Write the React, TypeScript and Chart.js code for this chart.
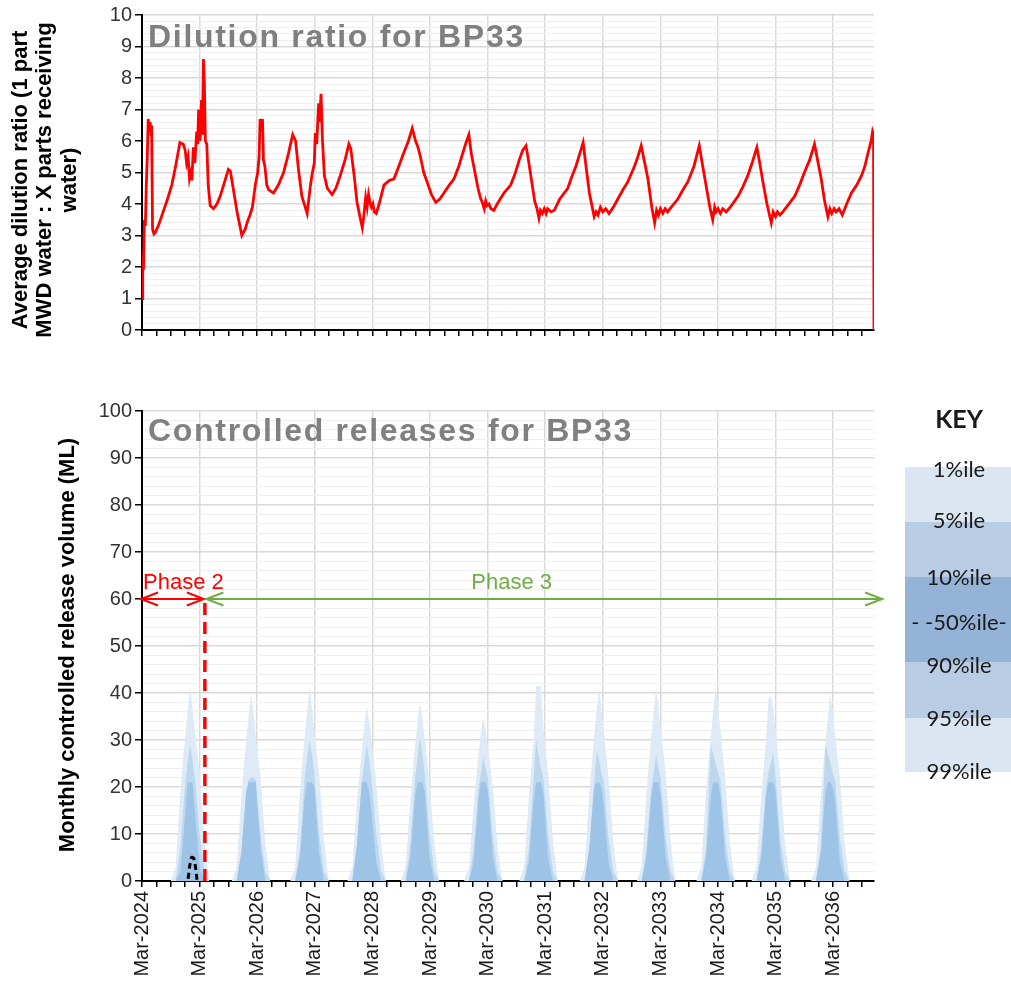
import React, { useEffect, useRef } from 'react';
import { Chart, registerables } from 'chart.js';

Chart.register(...registerables);

const FONT = '"Liberation Sans", Arial, Helvetica, sans-serif';
Chart.defaults.font.family = FONT;

// ---------- Axis / label data ----------
const yearLabels = [
  'Mar-2024', 'Mar-2025', 'Mar-2026', 'Mar-2027', 'Mar-2028', 'Mar-2029', 'Mar-2030',
  'Mar-2031', 'Mar-2032', 'Mar-2033', 'Mar-2034', 'Mar-2035', 'Mar-2036',
];
const xMaxMonths = 152.5; // months after Mar-2024 where the axis ends
const topTitle = 'Dilution ratio for BP33';
const bottomTitle = 'Controlled releases for BP33';
const topYTitle = ['Average dilution ratio (1 part', 'MWD water : X parts receiving', 'water)'];
const bottomYTitle = 'Monthly controlled release volume (ML)';

// ---------- Dilution ratio (months after Mar-2024, ratio) ----------
const dilutionMonths = [
  0.0, 0.15, 0.3, 0.5, 0.7, 0.9, 1.1, 1.3, 1.5, 1.7, 1.9, 2.0, 2.2, 2.5, 2.8, 3.5, 4.4, 5.3, 6.2, 7.0,
  7.9, 8.6, 9.0, 9.3, 9.6, 9.9, 10.2, 10.4, 10.7, 11.0, 11.4, 11.6, 11.8, 12.1, 12.4, 12.6, 12.8, 13.0, 13.2, 13.5,
  13.8, 14.2, 14.9, 15.6, 16.3, 17.0, 18.0, 18.4, 19.0, 19.8, 20.4, 20.8, 21.5, 22.0, 22.5, 23.0, 23.6, 24.1, 24.4, 24.6,
  24.8, 25.1, 25.3, 25.6, 26.0, 26.4, 27.4, 28.4, 29.5, 30.5, 31.4, 32.0, 32.6, 33.3, 34.0, 34.4, 35.1, 35.5, 35.9, 36.1,
  36.4, 36.8, 37.0, 37.3, 37.6, 38.0, 38.6, 39.6, 40.4, 41.3, 42.3, 43.1, 43.5, 44.2, 44.8, 45.4, 45.9, 46.2, 46.6, 46.9,
  47.2, 47.5, 47.8, 48.1, 48.4, 48.8, 49.4, 50.4, 51.5, 52.5, 53.5, 54.6, 55.5, 56.3, 57.0, 57.5, 58.0, 58.7, 59.4, 60.3,
  61.2, 62.0, 62.9, 64.0, 65.0, 66.0, 66.7, 67.5, 68.1, 68.6, 69.5, 70.0, 70.5, 70.9, 71.3, 71.6, 71.9, 72.3, 72.7, 73.3,
  74.0, 75.4, 76.8, 77.7, 78.6, 79.3, 80.0, 80.4, 81.0, 81.8, 82.3, 82.7, 83.0, 83.4, 83.8, 84.2, 84.5, 85.2, 85.9, 87.0,
  88.7, 89.5, 90.4, 91.2, 91.9, 92.5, 93.2, 93.8, 94.2, 94.6, 95.0, 95.5, 96.0, 96.6, 97.3, 98.2, 99.1, 100.2, 101.2, 102.6,
  103.3, 104.0, 104.6, 105.4, 106.2, 106.8, 107.2, 107.6, 108.0, 108.5, 109.0, 109.5, 110.5, 111.6, 112.7, 113.7, 115.0, 116.1, 116.7, 117.5,
  118.3, 118.9, 119.3, 119.6, 120.0, 120.5, 121.0, 121.7, 122.8, 124.2, 125.2, 126.2, 127.2, 128.1, 128.7, 129.3, 130.2, 131.1, 131.5, 132.0,
  132.4, 132.9, 133.5, 134.5, 136.0, 137.0, 138.0, 139.1, 140.1, 140.8, 141.5, 142.2, 142.9, 143.3, 143.7, 144.2, 144.6, 145.2, 145.9, 146.8,
  147.8, 148.9, 149.9, 150.6, 151.3, 151.9, 152.2, 152.4, 152.5,
];
const dilutionValues = [
  1.0, 2.4, 1.9, 3.5, 3.3, 4.6, 5.5, 6.7, 6.3, 6.6, 6.2, 6.5, 3.2, 3.05, 3.1, 3.35, 3.75, 4.15, 4.6, 5.2,
  5.95, 5.9, 5.7, 5.3, 5.5, 4.8, 5.0, 4.75, 5.8, 5.3, 6.3, 5.9, 7.0, 6.0, 7.3, 6.2, 8.6, 7.8, 6.0, 5.9,
  4.6, 3.95, 3.85, 4.0, 4.25, 4.6, 5.1, 5.05, 4.5, 3.75, 3.3, 3.0, 3.2, 3.45, 3.65, 3.9, 4.6, 5.0, 5.5, 6.7,
  6.3, 6.7, 5.4, 5.2, 4.6, 4.45, 4.35, 4.6, 5.0, 5.6, 6.2, 6.0, 5.1, 4.25, 3.9, 3.7, 4.6, 5.0, 5.3, 6.25,
  5.9, 7.2, 6.6, 7.5, 6.0, 4.9, 4.5, 4.3, 4.5, 4.9, 5.4, 5.9, 5.75, 4.9, 4.05, 3.6, 3.25, 3.6, 4.2, 3.9,
  4.3, 4.05, 3.9, 4.0, 3.75, 3.7, 4.0, 4.6, 4.75, 4.8, 5.2, 5.65, 6.0, 6.4, 6.0, 5.8, 5.5, 5.0, 4.7, 4.3,
  4.05, 4.15, 4.35, 4.6, 4.8, 5.2, 5.55, 5.95, 6.2, 5.6, 4.9, 4.5, 4.2, 4.05, 3.85, 4.1, 3.95, 4.0, 3.85, 3.8,
  4.0, 4.35, 4.6, 4.95, 5.4, 5.7, 5.85, 5.5, 4.9, 4.1, 3.85, 3.55, 3.8, 3.7, 3.85, 3.7, 3.85, 3.75, 3.8, 4.15,
  4.5, 4.85, 5.2, 5.6, 5.95, 5.2, 4.35, 3.9, 3.6, 3.75, 3.65, 3.9, 3.75, 3.85, 3.7, 3.9, 4.15, 4.45, 4.7, 5.2,
  5.5, 5.85, 5.4, 4.8, 3.9, 3.4, 3.8, 3.65, 3.85, 3.7, 3.85, 3.75, 3.95, 4.15, 4.45, 4.7, 5.2, 5.85, 5.3, 4.6,
  3.9, 3.5, 3.9, 3.75, 3.85, 3.7, 3.85, 3.75, 3.95, 4.25, 4.55, 4.9, 5.35, 5.8, 5.3, 4.75, 4.0, 3.4, 3.75, 3.6,
  3.75, 3.65, 3.75, 3.95, 4.25, 4.6, 5.0, 5.4, 5.9, 5.35, 4.8, 4.1, 3.6, 3.85, 3.7, 3.85, 3.75, 3.85, 3.65, 4.0,
  4.35, 4.6, 4.9, 5.2, 5.65, 6.0, 6.3, 6.2, 0,
];

// ---------- Controlled releases: percentile envelopes per release season ----------
// Season peak month (months after Mar-2024) and values at offsets (months) around the peak.
const seasonPeakMonths = [10, 22.7, 34.9, 46.8, 57.9, 71.1, 82.6, 95.2, 107.1, 119.5, 131, 143.4];
const seasonOffsets = [-4, -3, -2, -1, -0.5, 0, 0.5, 1, 2, 3, 4];
const p99Seasons = [
  [0, 3, 19, 31, 36, 41.5, 37, 32, 23, 9, 0],
  [0, 3, 18, 30, 35, 40, 36, 31, 22, 8, 0],
  [0, 3, 19, 31, 36, 41.4, 37, 32, 23, 9, 0],
  [0, 3, 17, 28, 33, 37.1, 34, 30, 21, 8, 0],
  [0, 3, 17, 29, 34, 38, 35, 30, 21, 8, 0],
  [0, 3, 16, 27, 31.5, 34.8, 32, 28, 20, 7, 0],
  [0, 3, 18, 30, 41.5, 41.5, 41.5, 33, 23, 9, 0],
  [0, 3, 19, 31, 36, 41.2, 37, 32, 22, 8, 0],
  [0, 3, 19, 31, 36, 41.2, 37, 32, 23, 9, 0],
  [0, 3, 19, 31, 36, 41.2, 37, 32, 22, 8, 0],
  [0, 3, 18, 30, 38.7, 39.5, 37, 32, 22, 8, 0],
  [0, 3, 18, 30, 35, 39.8, 36, 31, 22, 8, 0],
];
const p95Seasons = [
  [0, 0, 7, 21, 25, 29.3, 26, 22, 10, 2, 0],
  [0, 0, 6, 19, 21.5, 22, 22, 21.5, 10, 2, 0],
  [0, 0, 7, 22, 26, 30, 27, 23, 10, 2, 0],
  [0, 0, 7, 21, 25, 28.9, 26, 22, 10, 2, 0],
  [0, 0, 8, 22, 26, 30.7, 27, 23, 10, 2, 0],
  [0, 0, 7, 20, 23, 26.4, 24, 21.5, 9, 2, 0],
  [0, 0, 7, 22, 30, 27, 24, 22, 10, 2, 0],
  [0, 0, 7, 21, 27.7, 26, 23, 21.5, 9, 2, 0],
  [0, 0, 7, 20, 23, 27.2, 24, 21.5, 9, 2, 0],
  [0, 0, 7, 28.9, 27, 25, 23, 21.5, 9, 2, 0],
  [0, 0, 7, 20, 23, 25, 27.5, 22, 9, 2, 0],
  [0, 0, 7, 28.9, 27, 25, 23, 21.5, 9, 2, 0],
];
const p90Seasons = [
  [0, 0, 2, 14, 21, 21, 21, 15, 3, 0, 0],
  [0, 0, 6, 19, 21, 21, 21, 21, 7, 0, 0],
  [0, 0, 5, 18, 21, 21, 21, 20, 6, 0, 0],
  [0, 0, 8, 21, 21, 21, 19, 15, 4, 0, 0],
  [0, 0, 5, 18, 21, 21, 21, 19, 5, 0, 0],
  [0, 0, 4, 17, 21, 21, 21, 19, 5, 0, 0],
  [0, 0, 4, 17, 21, 21, 21, 19, 5, 0, 0],
  [0, 0, 7, 20, 21, 21, 20, 16, 4, 0, 0],
  [0, 0, 5, 18, 21, 21, 21, 18, 5, 0, 0],
  [0, 0, 5, 18, 21, 21, 21, 18, 5, 0, 0],
  [0, 0, 5, 18, 21, 21, 21, 19, 5, 0, 0],
  [0, 0, 6, 19, 21, 21, 20, 17, 4, 0, 0],
];
// 50%ile (only non-zero in Phase 2)
const medianMonths = [9.6, 10.3, 10.8, 11.5];
const medianValues = [0.5, 5, 4.8, 0];

// Phases
const phase2StartMonth = 0;
const phase2EndMonth = 13.1;
const phase3EndMonth = 154.2;
const phaseArrowLevel = 60;
const phase3LabelMonth = 77;

// Key
const keyLabels = ['1%ile', '5%ile', '10%ile', '- -50%ile-', '90%ile', '95%ile', '99%ile'];

// ---------- Colours ----------
const RED = '#ff0000';
const GREEN = '#70ad47';
const GRID_MAJOR = '#d9d9d9';
const GRID_MINOR = '#efefef';
const BAND_DARK = '#9dc3e6';
const BAND_MID = '#bdd7ee';
const BAND_LIGHT = '#deebf7';
const KEY_LIGHT = '#dce6f2';
const KEY_MID = '#b8cce4';
const KEY_DARK = '#95b3d7';

const isWhole = (v: number) => Math.abs(v - Math.round(v)) < 1e-6;
const isYear = (v: number) => Math.round(v) % 12 === 0;

function seasonSeries(seasons: number[][]) {
  const pts: { x: number; y: number }[] = [{ x: 0, y: 0 }];
  seasons.forEach((vals, s) => {
    seasonOffsets.forEach((off, k) => pts.push({ x: seasonPeakMonths[s] + off, y: vals[k] }));
  });
  pts.push({ x: xMaxMonths, y: 0 });
  return pts;
}

function xScale(showLabels: boolean, height: number) {
  return {
    type: 'linear',
    min: 0,
    max: xMaxMonths,
    afterFit: (s: any) => {
      s.height = height;
    },
    ticks: {
      stepSize: 3,
      includeBounds: false,
      autoSkip: false,
      minRotation: showLabels ? 90 : 0,
      maxRotation: showLabels ? 90 : 0,
      padding: 4,
      color: '#1a1a1a',
      font: { size: 20 },
      callback: (v: number) => {
        if (!showLabels) return '';
        const m = Math.round(v);
        return m % 12 === 0 ? yearLabels[m / 12] : '';
      },
    },
    grid: {
      color: (c: any) => (c.tick && isYear(c.tick.value) ? GRID_MAJOR : 'rgba(0,0,0,0)'),
      lineWidth: 1.5,
      tickColor: '#000',
      tickLength: 6,
      drawTicks: true,
    },
    border: { color: '#000', width: 2 },
  };
}

function yScale(max: number, step: number, major: number) {
  const isMajor = (v: number) => isWhole(v / major);
  return {
    min: 0,
    max,
    afterFit: (s: any) => {
      s.width = 142;
    },
    ticks: {
      stepSize: step,
      autoSkip: false,
      padding: 3,
      color: '#333333',
      font: { size: 20 },
      callback: (v: number) => (isMajor(v) ? String(Math.round(v)) : ''),
    },
    grid: {
      color: (c: any) => (c.tick && isMajor(c.tick.value) ? GRID_MAJOR : GRID_MINOR),
      lineWidth: (c: any) => (c.tick && isMajor(c.tick.value) ? 1.5 : 1),
      tickColor: (c: any) => (c.tick && isMajor(c.tick.value) ? '#000' : 'rgba(0,0,0,0)'),
      tickLength: 7,
    },
    border: { color: '#000', width: 2 },
  };
}

function drawChartTitle(chart: any, text: string, baselineOffset: number) {
  const { ctx, chartArea } = chart;
  ctx.save();
  ctx.font = `bold 32px ${FONT}`;
  (ctx as any).letterSpacing = '1.7px';
  ctx.fillStyle = '#808080';
  ctx.textAlign = 'left';
  ctx.textBaseline = 'alphabetic';
  ctx.fillText(text, chartArea.left + 6, chartArea.top + baselineOffset);
  ctx.restore();
}

function drawRotated(ctx: CanvasRenderingContext2D, text: string, x: number, y: number, font: string) {
  ctx.save();
  ctx.font = font;
  ctx.fillStyle = '#000';
  ctx.translate(x, y);
  ctx.rotate(-Math.PI / 2);
  ctx.textAlign = 'center';
  ctx.textBaseline = 'alphabetic';
  ctx.fillText(text, 0, 0);
  ctx.restore();
}

function drawArrow(ctx: CanvasRenderingContext2D, x1: number, x2: number, y: number, color: string) {
  const hl = 17;
  const hw = 6.5;
  ctx.save();
  ctx.strokeStyle = color;
  ctx.lineWidth = 2;
  ctx.beginPath();
  ctx.moveTo(x1, y);
  ctx.lineTo(x2, y);
  ctx.moveTo(x1 + hl, y - hw);
  ctx.lineTo(x1, y);
  ctx.lineTo(x1 + hl, y + hw);
  ctx.moveTo(x2 - hl, y - hw);
  ctx.lineTo(x2, y);
  ctx.lineTo(x2 - hl, y + hw);
  ctx.stroke();
  ctx.restore();
}

const topPlugin = {
  id: 'topDecor',
  beforeDatasetsDraw(chart: any) {
    drawChartTitle(chart, topTitle, 31.5);
  },
  afterDraw(chart: any) {
    const ctx = chart.ctx;
    const font = `bold 22px ${FONT}`;
    drawRotated(ctx, topYTitle[0], 27, 180, font);
    drawRotated(ctx, topYTitle[1], 51, 180, font);
    drawRotated(ctx, topYTitle[2], 76, 180, font);
  },
};

const bottomPlugin = {
  id: 'bottomDecor',
  beforeDatasetsDraw(chart: any) {
    drawChartTitle(chart, bottomTitle, 30);
  },
  afterDatasetsDraw(chart: any) {
    const { ctx, scales } = chart;
    const x = scales.x;
    const y = scales.y;
    const yy = y.getPixelForValue(phaseArrowLevel);
    const xa = x.getPixelForValue(phase2StartMonth);
    const xb = x.getPixelForValue(phase2EndMonth);
    const xc = x.getPixelForValue(phase3EndMonth);
    drawArrow(ctx, xa - 1, xb - 1, yy, RED);
    drawArrow(ctx, xb + 1.5, xc, yy, GREEN);
    ctx.save();
    ctx.font = `22px ${FONT}`;
    ctx.textBaseline = 'alphabetic';
    ctx.fillStyle = RED;
    ctx.textAlign = 'left';
    ctx.fillText('Phase 2', xa + 1, yy - 10);
    ctx.fillStyle = GREEN;
    ctx.textAlign = 'center';
    ctx.fillText('Phase 3', x.getPixelForValue(phase3LabelMonth), yy - 10);
    ctx.restore();
  },
  afterDraw(chart: any) {
    drawRotated(chart.ctx, bottomYTitle, 74, 300, `bold 22px ${FONT}`);
  },
};

function TopChart() {
  const ref = useRef<HTMLCanvasElement | null>(null);
  useEffect(() => {
    if (!ref.current) return;
    const data = dilutionMonths.map((m, i) => ({ x: m, y: dilutionValues[i] }));
    const chart = new Chart(ref.current, {
      type: 'line',
      data: {
        datasets: [
          {
            data,
            borderColor: RED,
            borderWidth: 2.8,
            pointRadius: 0,
            tension: 0,
            fill: false,
          },
        ],
      },
      options: {
        responsive: false,
        animation: false,
        devicePixelRatio: 1,
        layout: { padding: { left: 0, right: 1011 - 874, top: 15, bottom: 0 } },
        plugins: { legend: { display: false }, tooltip: { enabled: false } },
        scales: {
          x: xScale(false, 13) as any,
          y: yScale(10, 0.2, 1) as any,
        },
      },
      plugins: [topPlugin],
    } as any);
    return () => chart.destroy();
  }, []);
  return <canvas ref={ref} width={1011} height={345} style={{ position: 'absolute', left: 0, top: 0 }} />;
}

function BottomChart() {
  const ref = useRef<HTMLCanvasElement | null>(null);
  useEffect(() => {
    if (!ref.current) return;
    const band = (seasons: number[][], color: string) => ({
      data: seasonSeries(seasons),
      borderWidth: 0,
      borderColor: color,
      backgroundColor: color,
      pointRadius: 0,
      tension: 0,
      fill: 'origin',
    });
    const chart = new Chart(ref.current, {
      type: 'line',
      data: {
        datasets: [
          {
            data: medianMonths.map((m, i) => ({ x: m, y: medianValues[i] })),
            borderColor: '#000',
            borderWidth: 3,
            borderDash: [6, 4],
            pointRadius: 0,
            tension: 0.4,
            fill: false,
          },
          {
            data: [
              { x: phase2EndMonth, y: 0 },
              { x: phase2EndMonth, y: phaseArrowLevel },
            ],
            borderColor: RED,
            borderWidth: 3.5,
            borderDash: [12, 7],
            pointRadius: 0,
            fill: false,
          },
          band(p90Seasons, BAND_DARK),
          band(p95Seasons, BAND_MID),
          band(p99Seasons, BAND_LIGHT),
        ],
      },
      options: {
        responsive: false,
        animation: false,
        devicePixelRatio: 1,
        layout: { padding: { left: 0, right: 1011 - 874, top: 66, bottom: 0 } },
        plugins: { legend: { display: false }, tooltip: { enabled: false } },
        scales: {
          x: xScale(true, 103) as any,
          y: yScale(100, 2, 10) as any,
        },
      },
      plugins: [bottomPlugin],
    } as any);
    return () => chart.destroy();
  }, []);
  return <canvas ref={ref} width={1011} height={639} style={{ position: 'absolute', left: 0, top: 345 }} />;
}

function Key() {
  const bands = [
    { top: 467, h: 55, c: KEY_LIGHT },
    { top: 522, h: 55, c: KEY_MID },
    { top: 577, h: 85, c: KEY_DARK },
    { top: 662, h: 56, c: KEY_MID },
    { top: 718, h: 54, c: KEY_LIGHT },
  ];
  const labelCenters = [469, 520, 577, 622, 665, 718, 771];
  const textStyle: React.CSSProperties = {
    position: 'absolute',
    left: 900,
    width: 118,
    textAlign: 'center',
    fontFamily: 'Lato, "Open Sans", sans-serif',
    fontSize: 22,
    lineHeight: '26px',
    height: 26,
    color: '#1a1a1a',
    whiteSpace: 'nowrap',
  };
  return (
    <>
      {bands.map((b, i) => (
        <div key={i} style={{ position: 'absolute', left: 905, top: b.top, width: 106, height: b.h, background: b.c }} />
      ))}
      <div style={{ ...textStyle, top: 404, fontWeight: 'bold', fontSize: 25, lineHeight: '28px', height: 28 }}>KEY</div>
      {keyLabels.map((t, i) => (
        <div key={t} style={{ ...textStyle, top: labelCenters[i] - 13 }}>
          {t}
        </div>
      ))}
    </>
  );
}

export default function App() {
  return (
    <div style={{ position: 'absolute', left: 0, top: 0, width: 1011, height: 984, background: '#fff', overflow: 'hidden' }}>
      <TopChart />
      <BottomChart />
      <Key />
    </div>
  );
}
